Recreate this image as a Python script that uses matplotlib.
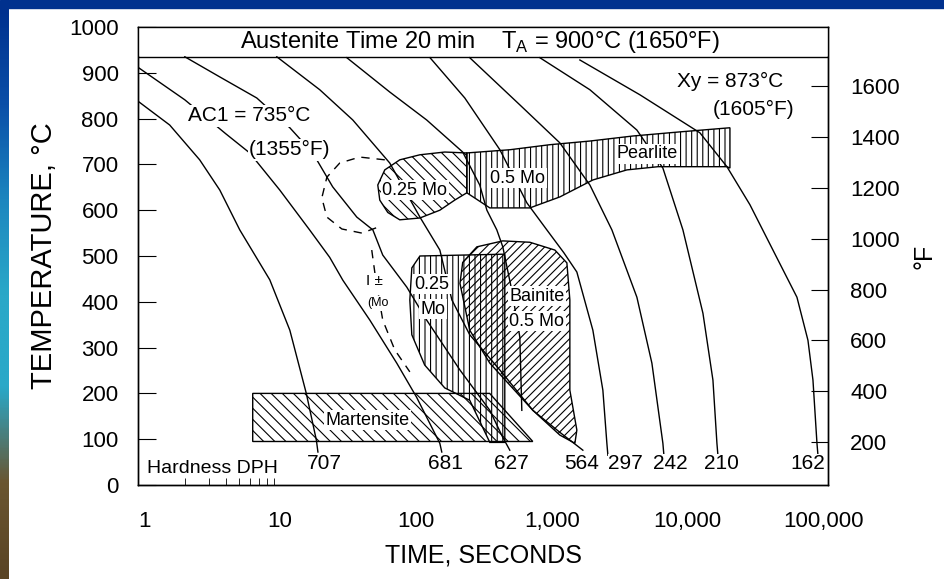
import numpy as np
import matplotlib.pyplot as plt
from matplotlib.patches import Polygon, Rectangle
from matplotlib.colors import LinearSegmentedColormap

plt.rcParams['font.family'] = ['Liberation Sans', 'DejaVu Sans']
plt.rcParams['hatch.linewidth'] = 0.8

# cooling curves: time (s) and temperature (C), hardness label at bottom
t_707 = [0.9, 1.54, 2.56, 3.6, 5.05, 8.4, 11.8, 15.6, 18.5, 19.0]
T_707 = [838, 786, 710, 644, 557, 448, 338, 200, 98, 72]
t_681 = [0.9, 1.99, 3.98, 5.98, 9.95, 16.5, 23.2, 29, 45.8, 72.3, 101, 150, 155]
T_681 = [912, 841, 767, 725, 644, 557, 497, 447, 360, 266, 192, 91, 72]
t_627 = [1.99, 3.6, 6.74, 11.8, 17.4, 24.4, 36.7, 48.2, 57, 85.7, 120, 211, 350, 436, 491]
T_627 = [935, 891, 845, 780, 725, 651, 585, 557, 502, 432, 360, 251, 163, 104, 76]
t_564 = [9.46, 19.6, 34.3, 64.2, 82.8, 107, 150, 184, 249, 415, 726, 1147, 1694]
T_564 = [935, 863, 797, 703, 644, 585, 513, 404, 328, 251, 163, 115, 76]
t_mid = [31.0, 64.2, 120, 221, 295, 333, 394, 436, 508, 582, 602]
T_mid = [933, 858, 797, 727, 655, 600, 557, 520, 425, 323, 163]
t_297 = [127, 229, 415, 656, 920, 1228, 1530, 2007, 2378, 2545, 2589]
T_297 = [933, 845, 732, 616, 557, 507, 465, 338, 207, 91, 65]
t_242 = [249, 582, 1147, 1908, 2771, 4233, 5459, 6577, 6691]
T_242 = [933, 830, 747, 655, 557, 410, 266, 91, 65]
t_210 = [817, 1908, 4233, 6577, 9235, 12966, 15361, 16436, 16716]
T_210 = [933, 863, 775, 692, 557, 375, 229, 91, 65]
t_162 = [1610, 4454, 12316, 19470, 28750, 42470, 63800, 76880, 83700, 89580, 91100]
T_162 = [928, 852, 769, 695, 612, 513, 410, 316, 229, 91, 65]

hardness = ['707', '681', '627', '564', '297', '242', '210', '162']
hardness_t = [21.3, 166, 508, 1666, 3453, 7409, 17890, 76880]

# transformation regions
pearl05_t = [237, 491, 968, 1908, 3956, 8777, 20490, 20490, 19470, 6064, 3573, 2007, 1147, 690, 350, 237]
pearl05_T = [725, 732, 743, 751, 762, 771, 780, 692, 695, 695, 688, 666, 629, 605, 605, 638]
pearl025_t = [54.2, 52.4, 59.0, 76.1, 107, 163, 237, 237, 193, 150, 107, 76.1, 62.1]
pearl025_T = [622, 655, 688, 710, 721, 727, 725, 638, 622, 600, 583, 579, 595]
dash_ell_t = [59.0, 38.6, 27.5, 22.1, 20.3, 22.1, 28.5, 40.0, 56.1]
dash_ell_T = [710, 716, 703, 672, 627, 585, 559, 550, 566]
dash_line_t = [47.3, 50.7, 57.0, 69.9, 90.2]
dash_line_T = [513, 448, 360, 295, 247]
bain025_t = [93.3, 90.2, 93.3, 107, 451, 451, 350, 249, 163, 116]
bain025_T = [328, 404, 474, 500, 504, 93, 93, 185, 212, 262]
bain05_t = [211, 221, 281, 436, 690, 1054, 1292, 1359, 1359, 1530, 1480, 1147, 726, 350, 249]
bain05_T = [440, 486, 520, 533, 530, 513, 485, 404, 207, 120, 91, 109, 163, 266, 338]
mart_t = [6.29, 349, 725, 6.29]
mart_T = [200, 200, 95, 95]

temp_ticks = list(range(0, 1001, 100))
f_ticks = list(range(200, 1601, 200))
time_ticks = [1, 10, 100, 1000, 10000, 100000]
time_labels = ['1', '10', '100', '1,000', '10,000', '100,000']

fig = plt.figure(figsize=(9.44, 5.79), dpi=100)

# blue slide frame
fig.add_artist(Rectangle((0, 1 - 8 / 579), 1, 8 / 579, transform=fig.transFigure,
                         color='#00318e', zorder=0))
strip = fig.add_axes([0, 0, 9 / 944, 1 - 8 / 579])
cmap = LinearSegmentedColormap.from_list(
    'frame', ['#00318e', '#0a4fa8', '#1c86bf', '#2aa8c8', '#2aa8c8', '#6a5530', '#5a4424'])
strip.imshow(np.linspace(0, 1, 200).reshape(-1, 1), aspect='auto', cmap=cmap)
strip.axis('off')

ax = fig.add_axes([138 / 944, 94 / 579, 690 / 944, 458 / 579])
ax.set_xscale('log')
ax.set_xlim(0.9, 1.08e5)
ax.set_ylim(0, 1000)

for t, T in [(t_707, T_707), (t_681, T_681), (t_627, T_627), (t_564, T_564),
             (t_mid, T_mid), (t_297, T_297), (t_242, T_242), (t_210, T_210),
             (t_162, T_162)]:
    ax.plot(t, T, color='black', lw=1.0)


def region(t, T, hatch, ls='-'):
    ax.add_patch(Polygon(np.column_stack([t, T]), closed=True, fill=False,
                         hatch=hatch, edgecolor='black', lw=1.0, ls=ls))


region(pearl05_t, pearl05_T, '|||')
region(pearl025_t, pearl025_T, '\\\\\\')
region(bain025_t, bain025_T, '|||')
region(bain05_t, bain05_T, '////')
region(mart_t, mart_T, '\\\\\\')
ax.plot(dash_ell_t, dash_ell_T, color='black', lw=1.0, ls=(0, (6, 5)))
ax.plot(dash_line_t, dash_line_T, color='black', lw=1.0, ls=(0, (6, 5)))

# header band
ax.axhline(935, color='black', lw=1.0)
ax.add_patch(Rectangle((0.9, 936), 1.08e5, 64, facecolor='white', edgecolor='none', zorder=3))
ax.text(295, 968, 'Austenite Time 20 min    T$_\\mathregular{A}$ = 900°C (1650°F)',
        ha='center', va='center', fontsize=17, zorder=4)

wb = dict(facecolor='white', edgecolor='none', pad=1)
ax.text(5.88, 806, 'AC1 = 735°C', ha='center', va='center', fontsize=15, bbox=wb)
ax.text(11.8, 732, '(1355°F)', ha='center', va='center', fontsize=15, bbox=wb)
ax.text(20490, 882, 'Xy = 873°C', ha='center', va='center', fontsize=15)
ax.text(30780, 821, '(1605°F)', ha='center', va='center', fontsize=15)
ax.text(98.1, 644, '0.25 Mo', ha='center', va='center', fontsize=13, bbox=wb)
ax.text(563, 670, '0.5 Mo', ha='center', va='center', fontsize=13, bbox=wb)
ax.text(5015, 723, 'Pearlite', ha='center', va='center', fontsize=13, bbox=wb)
ax.text(131, 438, '0.25', ha='center', va='center', fontsize=13, bbox=wb)
ax.text(133, 384, 'Mo', ha='center', va='center', fontsize=13, bbox=wb)
ax.text(777, 412, 'Bainite', ha='center', va='center', fontsize=13, bbox=wb)
ax.text(777, 358, '0.5 Mo', ha='center', va='center', fontsize=13, bbox=wb)
ax.text(49.8, 445, 'I ±', ha='center', va='center', fontsize=11, bbox=wb)
ax.text(52.4, 397, '(Mo', ha='center', va='center', fontsize=9, bbox=wb)
ax.text(44.2, 141, 'Martensite', ha='center', va='center', fontsize=13, bbox=wb)
ax.text(3.19, 37, 'Hardness DPH', ha='center', va='center', fontsize=14)
for lab, t in zip(hardness, hardness_t):
    ax.text(t, 47, lab, ha='center', va='center', fontsize=15,
            bbox=dict(facecolor='white', edgecolor='none', pad=0))

ax.set_yticks(temp_ticks)
ax.set_xticks(time_ticks)
ax.set_xticklabels(time_labels)
ax.set_xticks([2, 3, 4, 5, 6, 7, 8, 9], minor=True)
ax.xaxis.set_minor_formatter(plt.NullFormatter())
ax.tick_params(axis='y', direction='in', length=13, labelsize=16, pad=14)
ax.tick_params(axis='x', which='major', length=0, labelsize=16, pad=19)
ax.tick_params(axis='x', which='minor', direction='in', length=5)
ax.set_xlabel('TIME, SECONDS', fontsize=18, labelpad=8)
ax.set_ylabel('TEMPERATURE, °C', fontsize=21, labelpad=8)

ax2 = ax.twinx()
ax2.set_ylim(32, 1832)
ax2.set_yticks(f_ticks)
ax2.tick_params(axis='y', direction='in', length=12, labelsize=16, pad=16)
ax2.set_ylabel('°F', fontsize=18, labelpad=9)

for a in (ax, ax2):
    for s in a.spines.values():
        s.set_linewidth(1.0)

fig.savefig('out.png', dpi=100)
